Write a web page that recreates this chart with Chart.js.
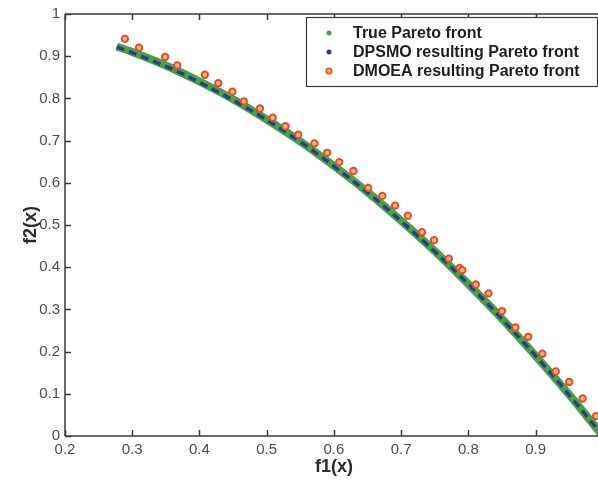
<!DOCTYPE html>
<html>
<head>
<meta charset="utf-8">
<script src="https://cdn.jsdelivr.net/npm/chart.js@4.4.1/dist/chart.umd.min.js"></script>
<style>
html,body{margin:0;padding:0;background:#fff;overflow:hidden;width:598px;height:495px;}
#wrap{position:absolute;left:0;top:0;width:612px;height:495px;}
</style>
</head>
<body>
<div id="wrap"><canvas id="c" width="612" height="495"></canvas></div>
<script>
// ---- data ----
const xTicks = [0.2, 0.3, 0.4, 0.5, 0.6, 0.7, 0.8, 0.9, 1.0];
const yTicks = [0, 0.1, 0.2, 0.3, 0.4, 0.5, 0.6, 0.7, 0.8, 0.9, 1];

const seriesNames = ['True Pareto front', 'DPSMO resulting Pareto front', 'DMOEA resulting Pareto front'];

// True Pareto front (green band)
const trueF1 = [0.277, 0.30, 0.35, 0.40, 0.45, 0.50, 0.55, 0.60, 0.65, 0.70, 0.75, 0.80, 0.85, 0.90, 0.95, 1.00];
const trueF2 = [0.923, 0.910, 0.878, 0.840, 0.798, 0.750, 0.698, 0.640, 0.578, 0.510, 0.438, 0.360, 0.278, 0.190, 0.098, 0.000];

// DPSMO resulting front (dark blue, sits on the true front)
const dpsmoF1 = [0.277, 0.31, 0.36, 0.41, 0.46, 0.51, 0.56, 0.61, 0.66, 0.71, 0.76, 0.81, 0.86, 0.91, 0.96, 1.00];
const dpsmoF2 = [0.922, 0.902, 0.869, 0.830, 0.787, 0.739, 0.686, 0.627, 0.564, 0.495, 0.422, 0.344, 0.260, 0.172, 0.078, 0.000];

// DMOEA resulting front (orange circles, slightly above)
const dmoeaF1 = [0.289, 0.310, 0.349, 0.367, 0.408, 0.428, 0.449, 0.466, 0.490, 0.509, 0.528, 0.547,
                 0.571, 0.590, 0.608, 0.629, 0.651, 0.672, 0.691, 0.710, 0.731, 0.749,
                 0.771, 0.787, 0.791, 0.811, 0.830, 0.850, 0.870, 0.889, 0.910, 0.930, 0.950, 0.970, 0.990];
const dmoeaF2 = [0.941, 0.920, 0.898, 0.878, 0.856, 0.836, 0.816, 0.793, 0.776, 0.754, 0.734, 0.714,
                 0.693, 0.671, 0.649, 0.628, 0.588, 0.569, 0.546, 0.522, 0.483, 0.464,
                 0.420, 0.398, 0.393, 0.359, 0.338, 0.296, 0.257, 0.235, 0.195, 0.153, 0.128, 0.089, 0.047];

const GREEN = '#48a048';
const BLUE = '#2c3f86';
const ORANGE = '#e0502c';
const ORANGE_FILL = '#f7b27a';

function pts(xs, ys) { return xs.map((x, i) => ({ x: x, y: ys[i] })); }

const FONT = "'Liberation Sans', Arial, sans-serif";

// inward ticks + top border, MATLAB style
const frameTicks = {
  id: 'frameTicks',
  afterDatasetsDraw(chart) {
    const ctx = chart.ctx, a = chart.chartArea;
    const xs = chart.scales.x, ys = chart.scales.y;
    ctx.save();
    ctx.strokeStyle = '#3a3a3a';
    ctx.lineWidth = 1.5;
    ctx.beginPath();
    ctx.moveTo(a.left, a.top); ctx.lineTo(a.right, a.top);
    ctx.moveTo(a.left, a.top); ctx.lineTo(a.left, a.bottom);
    ctx.moveTo(a.left, a.bottom); ctx.lineTo(a.right, a.bottom);
    xs.ticks.forEach(t => {
      const px = Math.round(xs.getPixelForValue(t.value)) + 0.5;
      ctx.moveTo(px, a.bottom); ctx.lineTo(px, a.bottom - 6);
      ctx.moveTo(px, a.top); ctx.lineTo(px, a.top + 6);
    });
    ys.ticks.forEach(t => {
      const py = Math.round(ys.getPixelForValue(t.value)) + 0.5;
      ctx.moveTo(a.left, py); ctx.lineTo(a.left + 6, py);
    });
    ctx.stroke();
    ctx.restore();
  }
};

// boxed legend inside the axes (top right)
const boxLegend = {
  id: 'boxLegend',
  afterDraw(chart) {
    const ctx = chart.ctx;
    const L = 306, T = 17, W = 291, H = 69;
    ctx.save();
    ctx.fillStyle = '#fff';
    ctx.fillRect(L, T, W, H);
    ctx.strokeStyle = '#3a3a3a';
    ctx.lineWidth = 1.2;
    ctx.strokeRect(L + 0.5, T + 0.5, W, H);
    ctx.font = "bold 16px " + FONT;
    ctx.textBaseline = 'middle';
    ctx.textAlign = 'left';
    const rows = [33, 52, 71];
    chart.data.datasets.forEach((ds, i) => {
      const y = rows[i], x = 329;
      if (i === 0) {
        ctx.fillStyle = GREEN;
        ctx.beginPath(); ctx.arc(x, y, 2.5, 0, Math.PI * 2); ctx.fill();
      } else if (i === 1) {
        ctx.fillStyle = BLUE;
        ctx.beginPath(); ctx.arc(x, y, 2.5, 0, Math.PI * 2); ctx.fill();
      } else {
        ctx.fillStyle = ORANGE_FILL; ctx.strokeStyle = ORANGE; ctx.lineWidth = 1.5;
        ctx.beginPath(); ctx.arc(x, y, 2.8, 0, Math.PI * 2); ctx.fill(); ctx.stroke();
      }
      ctx.fillStyle = '#1e1e1e';
      ctx.fillText(ds.label, 353, y + 0.5, 238);
    });
    ctx.restore();
  }
};

new Chart(document.getElementById('c'), {
  type: 'scatter',
  data: {
    datasets: [
      {
        label: seriesNames[0],
        data: pts(trueF1, trueF2),
        showLine: true,
        borderColor: GREEN,
        backgroundColor: GREEN,
        borderWidth: 8,
        pointRadius: 0,
        cubicInterpolationMode: 'monotone',
        order: 3
      },
      {
        label: seriesNames[1],
        data: pts(dpsmoF1, dpsmoF2),
        showLine: true,
        borderColor: BLUE,
        backgroundColor: BLUE,
        borderWidth: 3.5,
        borderDash: [8, 5],
        pointRadius: 0,
        cubicInterpolationMode: 'monotone',
        order: 2
      },
      {
        label: seriesNames[2],
        data: pts(dmoeaF1, dmoeaF2),
        showLine: false,
        borderColor: ORANGE,
        backgroundColor: ORANGE_FILL,
        borderWidth: 2,
        pointRadius: 3.2,
        order: 1
      }
    ]
  },
  options: {
    responsive: false,
    animation: false,
    devicePixelRatio: 1,
    layout: { padding: { left: 0, top: 11, right: 9, bottom: 0 } },
    plugins: { legend: { display: false }, tooltip: { enabled: false } },
    scales: {
      x: {
        type: 'linear',
        min: xTicks[0], max: xTicks[xTicks.length - 1],
        afterBuildTicks: s => { s.ticks = xTicks.map(v => ({ value: v })); },
        afterFit: s => { s.height = 59; },
        grid: { display: false, drawTicks: false },
        border: { display: false },
        ticks: {
          padding: 5,
          color: '#4d4d4d',
          font: { family: FONT, size: 15 },
          callback: v => String(Math.round(v * 10) / 10)
        },
        title: {
          display: true, text: 'f1(x)', color: '#2a2a2a',
          font: { family: FONT, size: 18, weight: 'bold' },
          padding: { top: 0, bottom: 17 }
        }
      },
      y: {
        type: 'linear',
        min: yTicks[0], max: yTicks[yTicks.length - 1],
        afterBuildTicks: s => { s.ticks = yTicks.map(v => ({ value: v })); },
        afterFit: s => { s.width = 65; },
        grid: { display: false, drawTicks: false },
        border: { display: false },
        ticks: {
          padding: 5,
          color: '#4d4d4d',
          font: { family: FONT, size: 15 },
          callback: v => String(Math.round(v * 10) / 10)
        },
        title: {
          display: true, text: 'f2(x)', color: '#2a2a2a',
          font: { family: FONT, size: 18, weight: 'bold' },
          padding: { top: 20, bottom: 0 }
        }
      }
    }
  },
  plugins: [frameTicks, boxLegend]
});
</script>
</body>
</html>
